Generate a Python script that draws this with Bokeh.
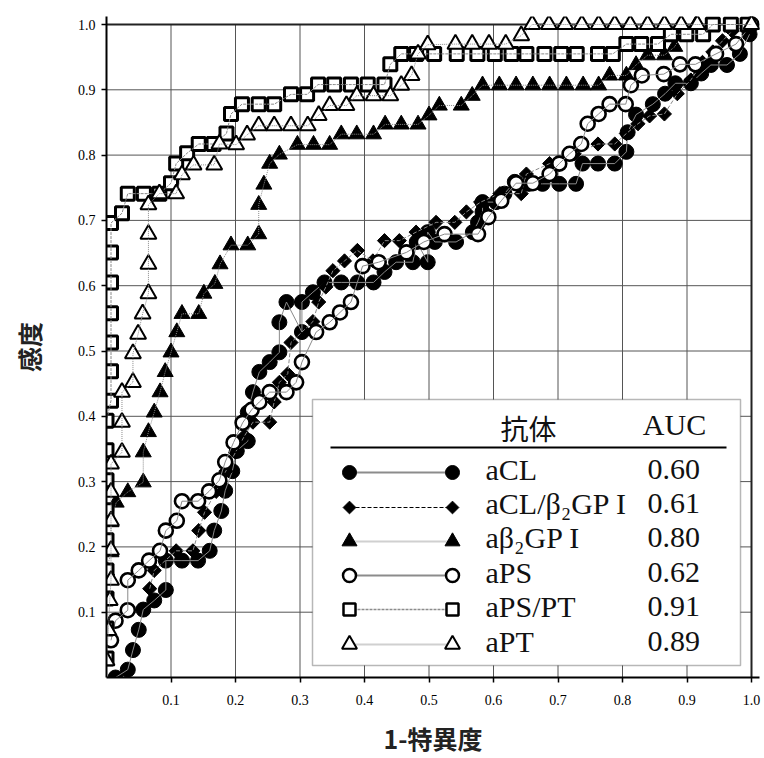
import numpy as np
from bokeh.plotting import figure
from bokeh.models import Range1d, FixedTicker, BoxAnnotation, Label
from bokeh.embed import file_html
from bokeh.resources import INLINE

# ---------------- data ----------------
tick_values = [0.1, 0.2, 0.3, 0.4, 0.5, 0.6, 0.7, 0.8, 0.9, 1.0]
tick_labels = ["0.1", "0.2", "0.3", "0.4", "0.5", "0.6", "0.7", "0.8", "0.9", "1.0"]

series_names = ["aCL", "aCL/β₂GP I", "aβ₂GP I", "aPS", "aPS/PT", "aPT"]
auc_values = ["0.60", "0.61", "0.80", "0.62", "0.91", "0.89"]

acl_x = [0.014, 0.033, 0.041, 0.050, 0.057, 0.074, 0.092, 0.092, 0.117, 0.142, 0.160, 0.167, 0.178, 0.184,
         0.195, 0.202, 0.219, 0.219, 0.227, 0.237, 0.253, 0.268, 0.268, 0.279, 0.303, 0.303, 0.320, 0.338,
         0.364, 0.389, 0.414, 0.431, 0.449, 0.475, 0.481, 0.498, 0.498, 0.509, 0.542, 0.568, 0.576, 0.583,
         0.583, 0.604, 0.617, 0.633, 0.655, 0.676, 0.702, 0.728, 0.738, 0.762, 0.788, 0.806, 0.808, 0.821,
         0.847, 0.866, 0.882, 0.906, 0.922, 0.937, 0.962, 0.982, 0.997]
acl_y = [0.000, 0.012, 0.042, 0.073, 0.104, 0.118, 0.134, 0.179, 0.179, 0.179, 0.194, 0.225, 0.255, 0.286,
         0.316, 0.347, 0.362, 0.406, 0.437, 0.468, 0.483, 0.498, 0.544, 0.575, 0.529, 0.575, 0.590, 0.605,
         0.605, 0.605, 0.605, 0.621, 0.636, 0.636, 0.667, 0.636, 0.682, 0.667, 0.667, 0.682, 0.697, 0.713,
         0.728, 0.728, 0.741, 0.759, 0.756, 0.756, 0.756, 0.756, 0.787, 0.787, 0.787, 0.805, 0.835, 0.862,
         0.878, 0.894, 0.910, 0.910, 0.925, 0.938, 0.938, 0.955, 0.985]

aclb_x = [0.067, 0.074, 0.108, 0.134, 0.143, 0.152, 0.170, 0.185, 0.200, 0.214, 0.227, 0.253, 0.260, 0.268,
          0.281, 0.286, 0.320, 0.329, 0.340, 0.351, 0.369, 0.389, 0.413, 0.431, 0.454, 0.480, 0.511, 0.540,
          0.558, 0.580, 0.610, 0.643, 0.651, 0.687, 0.725, 0.762, 0.788, 0.806, 0.824, 0.842, 0.865, 0.885,
          0.906, 0.924, 0.940, 0.955, 0.970, 1.000]
aclb_y = [0.136, 0.164, 0.194, 0.194, 0.225, 0.253, 0.285, 0.316, 0.345, 0.370, 0.391, 0.391, 0.422, 0.452,
          0.465, 0.513, 0.545, 0.575, 0.598, 0.623, 0.638, 0.654, 0.638, 0.669, 0.669, 0.682, 0.697, 0.697,
          0.713, 0.728, 0.741, 0.741, 0.771, 0.787, 0.802, 0.817, 0.817, 0.833, 0.848, 0.860, 0.863, 0.894,
          0.915, 0.942, 0.958, 0.975, 0.990, 1.000]

ab2_x = [0.000, 0.000, 0.000, 0.000, 0.007, 0.007, 0.015, 0.033, 0.057, 0.057, 0.065, 0.074, 0.083, 0.091,
         0.100, 0.109, 0.117, 0.143, 0.151, 0.168, 0.176, 0.193, 0.219, 0.236, 0.236, 0.244, 0.253, 0.268,
         0.296, 0.321, 0.346, 0.364, 0.388, 0.414, 0.432, 0.457, 0.483, 0.500, 0.516, 0.550, 0.567, 0.583,
         0.609, 0.635, 0.661, 0.687, 0.713, 0.739, 0.763, 0.780, 0.806, 0.821, 0.839, 0.865, 0.881, 0.891,
         0.914, 1.000]
ab2_y = [0.026, 0.072, 0.118, 0.164, 0.192, 0.238, 0.268, 0.284, 0.299, 0.345, 0.376, 0.406, 0.437, 0.468,
         0.498, 0.529, 0.557, 0.557, 0.588, 0.603, 0.633, 0.662, 0.662, 0.679, 0.724, 0.755, 0.787, 0.801,
         0.816, 0.816, 0.816, 0.832, 0.832, 0.832, 0.847, 0.847, 0.847, 0.861, 0.876, 0.876, 0.891, 0.907,
         0.907, 0.907, 0.907, 0.907, 0.907, 0.907, 0.907, 0.922, 0.922, 0.938, 0.953, 0.953, 0.966, 0.983,
         1.000, 1.000]

aps_x = [0.007, 0.014, 0.033, 0.033, 0.050, 0.066, 0.083, 0.092, 0.109, 0.117, 0.142, 0.159, 0.175, 0.184,
         0.197, 0.211, 0.225, 0.237, 0.253, 0.279, 0.294, 0.303, 0.325, 0.346, 0.362, 0.379, 0.397, 0.422,
         0.465, 0.492, 0.524, 0.576, 0.592, 0.612, 0.635, 0.661, 0.687, 0.702, 0.718, 0.736, 0.746, 0.763,
         0.780, 0.805, 0.813, 0.830, 0.864, 0.889, 0.913, 0.945, 0.976, 1.000]
aps_y = [0.057, 0.087, 0.103, 0.149, 0.164, 0.179, 0.194, 0.225, 0.240, 0.270, 0.270, 0.285, 0.302, 0.330,
         0.360, 0.390, 0.410, 0.422, 0.437, 0.437, 0.452, 0.483, 0.529, 0.544, 0.559, 0.575, 0.630, 0.636,
         0.651, 0.667, 0.679, 0.679, 0.705, 0.730, 0.757, 0.757, 0.771, 0.787, 0.802, 0.817, 0.848, 0.863,
         0.878, 0.878, 0.907, 0.922, 0.924, 0.939, 0.939, 0.955, 0.970, 1.000]

apspt_x = [0.000, 0.000, 0.000, 0.000, 0.000, 0.000, 0.000, 0.000, 0.000, 0.007, 0.007, 0.007, 0.007, 0.007,
           0.007, 0.007, 0.024, 0.033, 0.058, 0.082, 0.100, 0.108, 0.125, 0.143, 0.166, 0.186, 0.193, 0.210,
           0.236, 0.260, 0.286, 0.311, 0.328, 0.353, 0.379, 0.405, 0.431, 0.440, 0.457, 0.480, 0.508, 0.543,
           0.575, 0.602, 0.628, 0.651, 0.679, 0.705, 0.729, 0.762, 0.785, 0.806, 0.829, 0.855, 0.875, 0.899,
           0.925, 0.940, 0.968, 0.994]
apspt_y = [0.029, 0.075, 0.121, 0.164, 0.210, 0.256, 0.302, 0.348, 0.393, 0.424, 0.469, 0.513, 0.558, 0.605,
           0.651, 0.696, 0.711, 0.741, 0.741, 0.741, 0.757, 0.787, 0.803, 0.817, 0.817, 0.833, 0.863, 0.878,
           0.878, 0.878, 0.893, 0.893, 0.908, 0.908, 0.908, 0.908, 0.908, 0.939, 0.955, 0.955, 0.955, 0.955,
           0.955, 0.955, 0.955, 0.955, 0.955, 0.955, 0.955, 0.955, 0.955, 0.970, 0.970, 0.970, 0.985, 0.985,
           0.985, 1.000, 1.000, 1.000]

apt_x = [0.000, 0.003, 0.005, 0.007, 0.007, 0.007, 0.007, 0.007, 0.024, 0.024, 0.024, 0.041, 0.041, 0.049,
         0.056, 0.065, 0.065, 0.065, 0.065, 0.082, 0.108, 0.117, 0.135, 0.167, 0.175, 0.201, 0.218, 0.236,
         0.260, 0.286, 0.312, 0.329, 0.346, 0.372, 0.388, 0.414, 0.440, 0.457, 0.473, 0.483, 0.498, 0.541,
         0.567, 0.593, 0.619, 0.643, 0.660, 0.686, 0.711, 0.737, 0.763, 0.788, 0.812, 0.839, 0.865, 0.891,
         0.916, 1.000]
apt_y = [0.026, 0.072, 0.118, 0.149, 0.195, 0.240, 0.284, 0.327, 0.345, 0.391, 0.437, 0.452, 0.496, 0.526,
         0.557, 0.588, 0.633, 0.679, 0.724, 0.741, 0.741, 0.770, 0.785, 0.785, 0.817, 0.816, 0.831, 0.845,
         0.845, 0.845, 0.845, 0.861, 0.876, 0.876, 0.891, 0.891, 0.891, 0.907, 0.922, 0.955, 0.969, 0.970,
         0.970, 0.970, 0.970, 0.983, 1.000, 1.000, 1.000, 1.000, 1.000, 1.000, 1.000, 1.000, 1.000, 1.000,
         1.000, 1.000]

# ---------------- styles ----------------
styles = [
    dict(marker="circle", size=15, fill="black", lw=1, angle=0.0, dash="solid", lcol="#8c8c8c", llw=2),
    dict(marker="square", size=10, fill="black", lw=1, angle=np.pi / 4, dash="4 2", lcol="#000000", llw=1),
    dict(marker="triangle", size=16, fill="black", lw=1, angle=0.0, dash="1 1", lcol="#a0a0a0", llw=2),
    dict(marker="circle", size=14, fill="white", lw=2.6, angle=0.0, dash="solid", lcol="#8c8c8c", llw=2),
    dict(marker="square", size=13, fill="white", lw=3, angle=0.0, dash="3 1", lcol="#8c8c8c", llw=1.5),
    dict(marker="triangle", size=16, fill="white", lw=2, angle=0.0, dash="1 1", lcol="#a0a0a0", llw=2),
]
xs = [acl_x, aclb_x, ab2_x, aps_x, apspt_x, apt_x]
ys = [acl_y, aclb_y, ab2_y, aps_y, apspt_y, apt_y]

# frame geometry on the page (pixels): x 0..1 spans FL..FL+FW, y 1..0 spans FT..FT+FH
FL, FT, FW, FH = 106, 24, 645, 653
PAD = 8            # extra room above y=1 and right of x=1 so edge markers are not cut
W, H = 764, 758


def sx(px):
    return (px - FL) / FW


def sy(py):
    return (FT + FH - py) / FH


p = figure(width=W, height=H, output_backend="svg", toolbar_location=None,
           x_range=Range1d(0, 1 + PAD / FW), y_range=Range1d(0, 1 + PAD / FH),
           min_border_left=FL, min_border_right=W - FL - FW - PAD, min_border_top=FT - PAD,
           min_border_bottom=H - FT - FH)
p.background_fill_color = "white"
p.border_fill_color = "white"
p.outline_line_color = None

ticker = FixedTicker(ticks=tick_values)
overrides = {v: l for v, l in zip(tick_values, tick_labels)}
for ax in (p.xaxis[0], p.yaxis[0]):
    ax.ticker = ticker
    ax.major_label_overrides = overrides
    ax.major_label_text_font = "Liberation Serif"
    ax.major_label_text_font_size = "14px"
    ax.major_label_text_color = "black"
    ax.axis_line_width = 2
    ax.axis_line_color = "black"
    ax.major_tick_out = 5
    ax.major_tick_in = 0
    ax.major_tick_line_width = 1.5
    ax.minor_tick_line_color = None
    ax.axis_label_text_font = "Noto Sans CJK JP"
    ax.axis_label_text_font_size = "25px"
    ax.axis_label_text_font_style = "bold"
    ax.axis_label_text_color = "#222222"
p.xaxis.major_label_standoff = 12
p.yaxis.major_label_standoff = 6
p.xaxis.axis_label = "1-特異度"
p.yaxis.axis_label = "感度"
p.xaxis.axis_label_standoff = 12
p.yaxis.axis_label_standoff = 28

p.xgrid.visible = False
p.ygrid.visible = False

# grid lines and top/right frame lines restricted to the 0..1 square
zeros = [0.0] * len(tick_values)
ones = [1.0] * len(tick_values)
p.segment(x0=tick_values, y0=zeros, x1=tick_values, y1=ones, line_color="#555555", line_width=1)
p.segment(x0=zeros, y0=tick_values, x1=ones, y1=tick_values, line_color="#555555", line_width=1)
p.segment(x0=[0.0, 1.0], y0=[1.0, 0.0], x1=[1.0, 1.0], y1=[1.0, 1.0], line_color="#222222",
          line_width=2)

# plot series: markers then thin connecting line on top
for x, y, st in zip(xs, ys, styles):
    p.scatter(x, y, marker=st["marker"], size=st["size"], angle=st["angle"],
              fill_color=st["fill"], line_color="black", line_width=st["lw"])
    p.line(x, y, line_color="#8a8a8a", line_width=1, line_dash=st["dash"])

# legend box (annotation level), its contents on the overlay level above it
p.add_layout(BoxAnnotation(left=sx(312), right=sx(740), top=sy(399), bottom=sy(665),
                           fill_color="white", fill_alpha=1.0, line_color="#111111", line_width=1.5))
p.segment(x0=[sx(330)], y0=[sy(447)], x1=[sx(726)], y1=[sy(447)], line_color="black",
          line_width=2, level="overlay")
p.add_layout(Label(x=sx(528), y=sy(427), text="抗体", text_font="Noto Sans CJK JP",
                   text_font_size="28px", text_align="center", text_baseline="alphabetic",
                   text_color="#111111", level="overlay"))
p.add_layout(Label(x=sx(674), y=sy(424), text="AUC", text_font="Liberation Serif",
                   text_font_size="30px", text_align="center", text_baseline="alphabetic",
                   text_color="#111111", level="overlay"))

marker_rows = [472, 507, 541, 575, 609, 644]
text_rows = [469, 503, 537, 572, 606, 641]
for i, st in enumerate(styles):
    cy = sy(marker_rows[i])
    p.line([sx(349), sx(452)], [cy, cy], line_color=st["lcol"], line_width=st["llw"],
           line_dash=st["dash"], level="overlay")
    p.scatter([sx(349), sx(452)], [cy, cy], marker=st["marker"], size=st["size"] - 1,
              angle=st["angle"], fill_color=st["fill"], line_color="black",
              line_width=min(st["lw"], 2.5), level="overlay")
    p.add_layout(Label(x=sx(485), y=sy(text_rows[i]), text=series_names[i], text_font="Liberation Serif",
                       text_font_size="30px", text_baseline="alphabetic", text_color="#111111",
                       level="overlay"))
    p.add_layout(Label(x=sx(647), y=sy(text_rows[i]), text=auc_values[i], text_font="Liberation Serif",
                       text_font_size="30px", text_baseline="alphabetic", text_color="#111111",
                       level="overlay"))

open("out.html", "w").write(file_html(p, INLINE))
